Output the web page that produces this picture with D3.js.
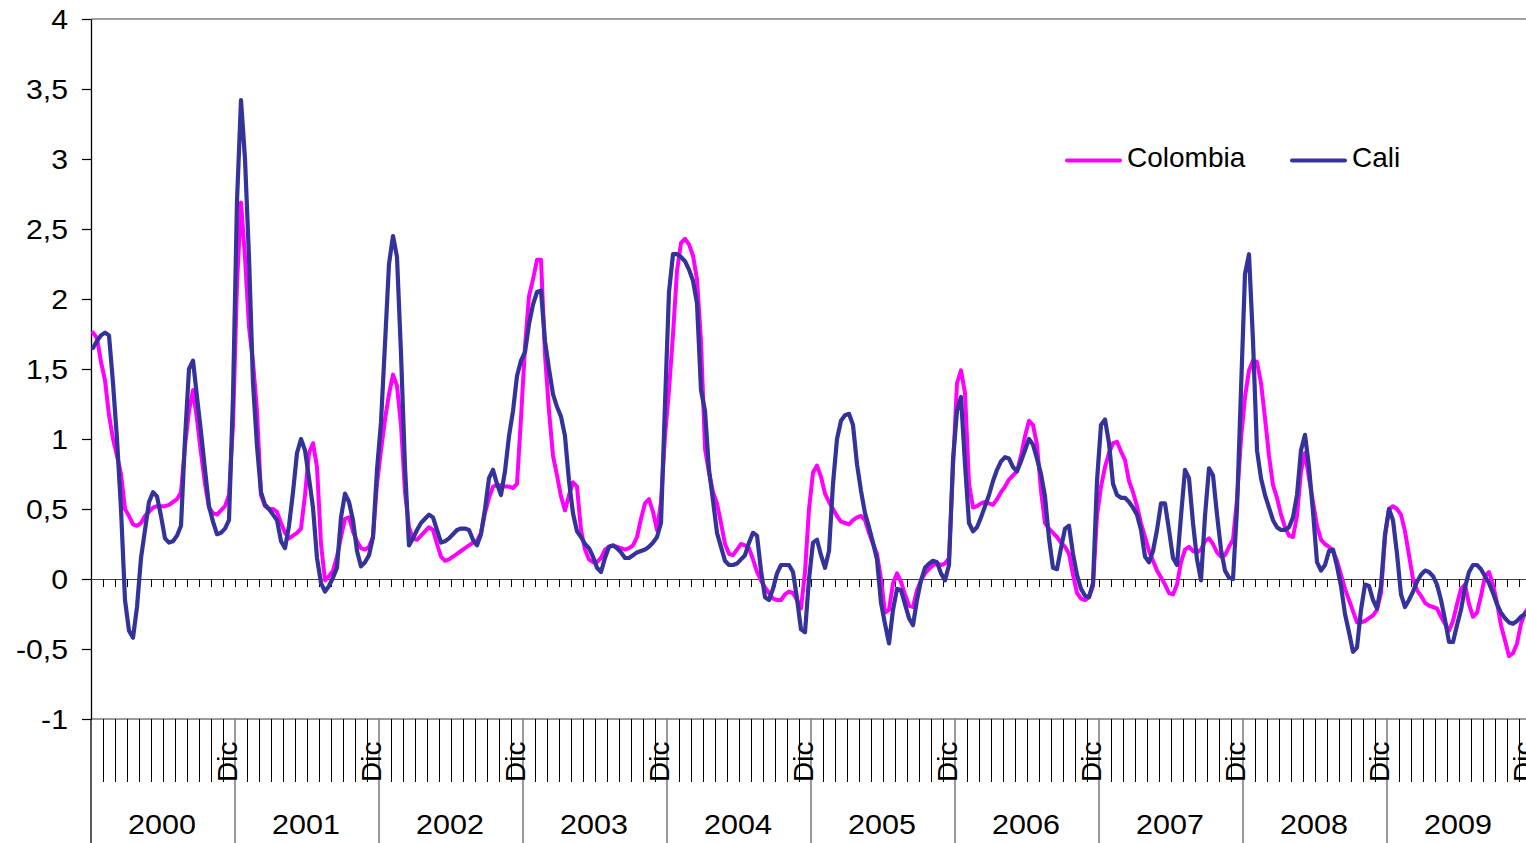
<!DOCTYPE html>
<html>
<head>
<meta charset="utf-8">
<script src="https://cdn.jsdelivr.net/npm/d3@7"></script>
<style>
  html, body { margin: 0; padding: 0; background: #fff; }
  svg { display: block; font-family: "Liberation Sans", Arial, sans-serif; }
</style>
</head>
<body>
<svg id="chart" width="1526" height="843"></svg>
<script>
// Year groups on the category axis and the inner label shown at each year's end
const years = ["2000", "2001", "2002", "2003", "2004", "2005", "2006", "2007", "2008", "2009"];
const yearEndLabel = "Dic";
const monthsPerYear = 12;
const readingsPerMonth = 3;

// Value axis ticks
const yTicks = [-1, -0.5, 0, 0.5, 1, 1.5, 2, 2.5, 3, 3.5, 4];

// Series (three readings per month, one row per year)
const colombia = [
  1.76,1.72,1.55,1.42,1.17,1.00,0.88,0.75,0.50,0.45,0.39,0.38,0.40,0.45,0.48,0.51,0.52,0.52,0.52,0.53,0.55,0.57,0.62,0.95,1.20,1.35,1.14,0.90,0.68,0.51,0.47,0.46,0.49,0.52,0.60,1.10,
  2.10,2.69,2.30,1.80,1.55,1.20,0.60,0.52,0.50,0.50,0.48,0.40,0.33,0.29,0.31,0.33,0.36,0.60,0.90,0.97,0.80,0.25,-0.01,0.02,0.06,0.16,0.30,0.43,0.44,0.34,0.27,0.22,0.21,0.23,0.30,0.68,
  0.92,1.14,1.32,1.46,1.38,1.10,0.62,0.37,0.29,0.28,0.31,0.34,0.37,0.35,0.25,0.16,0.13,0.14,0.16,0.18,0.20,0.22,0.24,0.26,0.27,0.33,0.47,0.58,0.66,0.67,0.67,0.66,0.66,0.65,0.68,1.15,
  1.66,2.02,2.14,2.28,2.28,1.60,1.20,0.88,0.74,0.59,0.49,0.60,0.69,0.66,0.35,0.21,0.14,0.12,0.12,0.15,0.21,0.23,0.24,0.23,0.22,0.21,0.22,0.24,0.30,0.43,0.54,0.57,0.48,0.35,0.55,1.02,
  1.35,1.75,2.20,2.40,2.43,2.39,2.31,2.14,1.70,0.93,0.76,0.62,0.54,0.40,0.25,0.18,0.17,0.21,0.25,0.24,0.22,0.14,0.05,-0.01,-0.06,-0.10,-0.14,-0.15,-0.15,-0.11,-0.09,-0.10,-0.15,-0.21,0.05,0.50,
  0.76,0.81,0.73,0.61,0.55,0.50,0.45,0.41,0.40,0.39,0.42,0.44,0.45,0.42,0.33,0.25,0.18,0.00,-0.24,-0.22,-0.03,0.04,-0.02,-0.11,-0.19,-0.20,-0.08,-0.01,0.04,0.07,0.10,0.11,0.10,0.11,0.15,0.80,
  1.40,1.49,1.33,0.68,0.51,0.52,0.54,0.55,0.54,0.53,0.57,0.62,0.66,0.71,0.74,0.77,0.88,1.02,1.13,1.10,0.96,0.63,0.40,0.36,0.33,0.30,0.26,0.23,0.18,0.03,-0.10,-0.14,-0.15,-0.13,-0.05,0.45,
  0.66,0.80,0.90,0.97,0.98,0.91,0.85,0.70,0.62,0.52,0.40,0.30,0.20,0.13,0.06,0.01,-0.04,-0.10,-0.11,-0.04,0.12,0.21,0.23,0.20,0.19,0.21,0.27,0.29,0.25,0.19,0.16,0.17,0.23,0.28,0.57,1.00,
  1.30,1.49,1.56,1.55,1.40,1.15,0.88,0.67,0.58,0.46,0.37,0.31,0.30,0.45,0.77,0.90,0.72,0.55,0.38,0.28,0.25,0.23,0.20,0.13,0.03,-0.07,-0.15,-0.23,-0.31,-0.31,-0.30,-0.28,-0.26,-0.22,-0.10,0.30,
  0.50,0.52,0.50,0.46,0.34,0.17,0.00,-0.08,-0.12,-0.17,-0.19,-0.20,-0.21,-0.27,-0.32,-0.37,-0.30,-0.18,-0.07,-0.04,-0.18,-0.27,-0.24,-0.12,0.02,0.05,-0.04,-0.17,-0.33,-0.44,-0.55,-0.53,-0.46,-0.32,-0.24,-0.20
];

const cali = [
  1.65,1.70,1.74,1.76,1.74,1.40,1.00,0.50,-0.15,-0.37,-0.42,-0.20,0.15,0.35,0.55,0.62,0.59,0.45,0.29,0.26,0.27,0.31,0.38,1.00,1.50,1.56,1.30,1.05,0.78,0.52,0.41,0.32,0.33,0.36,0.42,1.30,
  2.70,3.42,3.00,2.30,1.40,0.95,0.62,0.53,0.50,0.46,0.42,0.27,0.22,0.38,0.62,0.90,1.00,0.92,0.72,0.51,0.15,-0.03,-0.09,-0.05,0.01,0.08,0.44,0.61,0.55,0.42,0.20,0.09,0.12,0.17,0.30,0.78,
  1.12,1.68,2.25,2.45,2.30,1.61,0.80,0.24,0.29,0.35,0.40,0.43,0.46,0.44,0.35,0.26,0.27,0.29,0.32,0.35,0.36,0.36,0.35,0.28,0.24,0.32,0.50,0.72,0.78,0.68,0.60,0.77,1.02,1.20,1.45,1.56,
  1.62,1.82,1.96,2.05,2.06,1.70,1.50,1.32,1.23,1.16,1.02,0.70,0.47,0.34,0.30,0.25,0.22,0.16,0.08,0.05,0.15,0.23,0.24,0.22,0.19,0.15,0.15,0.17,0.19,0.20,0.21,0.23,0.26,0.30,0.40,1.25,
  2.05,2.32,2.32,2.30,2.27,2.21,2.13,1.97,1.35,1.20,0.78,0.56,0.33,0.23,0.13,0.10,0.10,0.11,0.14,0.17,0.26,0.33,0.31,0.06,-0.13,-0.15,-0.07,0.04,0.10,0.10,0.10,0.05,-0.14,-0.36,-0.38,0.00,
  0.26,0.28,0.17,0.08,0.20,0.68,1.00,1.13,1.17,1.18,1.10,0.82,0.63,0.47,0.37,0.26,0.14,-0.17,-0.32,-0.46,-0.22,-0.07,-0.08,-0.18,-0.28,-0.33,-0.15,-0.01,0.08,0.11,0.13,0.12,0.04,-0.01,0.10,0.85,
  1.20,1.30,0.82,0.40,0.34,0.37,0.44,0.52,0.60,0.70,0.78,0.84,0.87,0.86,0.80,0.77,0.84,0.92,1.00,0.96,0.86,0.75,0.59,0.29,0.08,0.07,0.22,0.36,0.38,0.18,0.03,-0.07,-0.12,-0.13,-0.03,0.70,
  1.10,1.14,0.97,0.68,0.60,0.58,0.58,0.55,0.51,0.46,0.35,0.16,0.12,0.20,0.35,0.54,0.54,0.35,0.15,0.10,0.45,0.78,0.72,0.40,0.14,-0.01,0.45,0.79,0.74,0.46,0.21,0.06,0.01,0.00,0.50,1.35,
  2.18,2.32,1.70,0.92,0.72,0.60,0.51,0.42,0.37,0.35,0.35,0.37,0.44,0.60,0.92,1.03,0.80,0.48,0.12,0.06,0.10,0.20,0.21,0.09,-0.05,-0.25,-0.38,-0.52,-0.49,-0.22,-0.04,-0.05,-0.15,-0.21,-0.05,0.32,
  0.50,0.42,0.18,-0.11,-0.20,-0.15,-0.09,-0.02,0.03,0.06,0.05,0.02,-0.04,-0.15,-0.29,-0.45,-0.45,-0.33,-0.22,-0.06,0.05,0.10,0.10,0.07,0.02,-0.03,-0.10,-0.18,-0.24,-0.28,-0.31,-0.32,-0.30,-0.27,-0.25,-0.23
];

const seriesNames = ["Colombia", "Cali"];
const seriesColors = ["#FF00FF", "#333399"];

// ---- layout ----
const W = 1526, H = 843;
const plot = { left: 91, top: 19, bottom: 719, right: 1531 };
const perYear = monthsPerYear * readingsPerMonth;
const nSlots = years.length * perYear;

const svg = d3.select("#chart");
svg.append("rect").attr("width", W).attr("height", H).attr("fill", "#fff");

const x = d3.scaleLinear().domain([0, nSlots]).range([plot.left, plot.right]);
const y = d3.scaleLinear().domain([-1, 4]).range([plot.bottom, plot.top]);

const locale = d3.formatLocale({ decimal: ",", thousands: ".", grouping: [3], currency: ["$", ""], minus: "-" });
const fmt = locale.format("~g");

// month and year boundaries in slot units
const monthBounds = d3.range(1, years.length * monthsPerYear).map(m => m * readingsPerMonth);
const innerMonthBounds = monthBounds.filter(s => s % perYear !== 0);
const yearBounds = d3.range(1, years.length + 1).map(i => i * perYear);

// top border
svg.append("line")
  .attr("x1", x(0)).attr("x2", x(nSlots))
  .attr("y1", y(4)).attr("y2", y(4))
  .attr("stroke", "#808080").attr("stroke-width", 1.5);

// bottom border of plotting area
svg.append("line")
  .attr("x1", x(0)).attr("x2", x(nSlots))
  .attr("y1", y(-1)).attr("y2", y(-1))
  .attr("stroke", "#9a9a9a").attr("stroke-width", 2);

// value axis
const yAxis = svg.append("g")
  .attr("transform", `translate(${plot.left},0)`)
  .call(d3.axisLeft(y).tickValues(yTicks).tickSize(9).tickSizeOuter(0).tickFormat(fmt));
yAxis.select(".domain").attr("stroke", "#000").attr("stroke-width", 1.3);
yAxis.selectAll(".tick line").attr("stroke", "#000").attr("stroke-width", 1.2);
yAxis.selectAll(".tick text")
  .attr("x", 0)
  .attr("transform", "translate(-23,0) scale(1.12,1)")
  .attr("font-size", 27).attr("fill", "#000")
  .attr("font-family", "'Liberation Sans', Arial, sans-serif")
  .attr("dy", "0.37em");

// left rule continues through the category label area
svg.append("line")
  .attr("x1", plot.left).attr("x2", plot.left)
  .attr("y1", plot.bottom).attr("y2", H)
  .attr("stroke", "#000").attr("stroke-width", 1.3);

// category axis crossing at zero
const zeroAxis = svg.append("g")
  .attr("transform", `translate(0,${y(0)})`)
  .call(d3.axisBottom(x).tickValues(monthBounds.concat(yearBounds)).tickSize(8).tickSizeOuter(0).tickFormat(""));
zeroAxis.select(".domain").attr("stroke", "#404040").attr("stroke-width", 1.2);
zeroAxis.selectAll(".tick line").attr("stroke", "#000").attr("stroke-width", 1);

// month divisions below the plot
const monthAxis = svg.append("g")
  .attr("transform", `translate(0,${plot.bottom})`)
  .call(d3.axisBottom(x).tickValues(innerMonthBounds).tickSize(63).tickSizeOuter(0).tickFormat(""));
monthAxis.select(".domain").remove();
monthAxis.selectAll(".tick line").attr("stroke", "#000").attr("stroke-width", 1);

// year divisions
svg.append("g").selectAll("line")
  .data(yearBounds)
  .join("line")
  .attr("x1", d => x(d)).attr("x2", d => x(d))
  .attr("y1", plot.bottom).attr("y2", H)
  .attr("stroke", "#808080").attr("stroke-width", 1.6);

// "Dic" labels at each year's end
svg.append("g").selectAll("text")
  .data(yearBounds)
  .join("text")
  .attr("transform", d => `translate(${x(d) + 1.5},782) rotate(-90)`)
  .attr("font-size", 28)
  .attr("fill", "#000")
  .text(yearEndLabel);

// year labels
svg.append("g").selectAll("text")
  .data(years)
  .join("text")
  .attr("transform", (d, i) => `translate(${x(i * perYear + perYear / 2) - 1},834) scale(1.09,1)`)
  .attr("text-anchor", "middle")
  .attr("font-size", 28)
  .attr("fill", "#000")
  .text(d => d);

// series lines
const line = d3.line()
  .x((d, i) => x(i + 0.5))
  .y(d => y(d));

[colombia, cali].forEach((vals, si) => {
  svg.append("path")
    .datum(vals)
    .attr("d", line)
    .attr("fill", "none")
    .attr("stroke", seriesColors[si])
    .attr("stroke-width", si === 1 ? 4.2 : 4)
    .attr("stroke-linejoin", "round")
    .attr("stroke-linecap", "round");
});

// legend
const legendX = [1067, 1292];
const legend = svg.append("g");
seriesNames.forEach((name, i) => {
  legend.append("line")
    .attr("x1", legendX[i]).attr("x2", legendX[i] + 53)
    .attr("y1", 160.5).attr("y2", 160.5)
    .attr("stroke", seriesColors[i]).attr("stroke-width", 4)
    .attr("stroke-linecap", "round");
  legend.append("text")
    .attr("x", legendX[i] + 60).attr("y", 167)
    .attr("font-size", 28).attr("fill", "#000")
    .text(name);
});
</script>
</body>
</html>
